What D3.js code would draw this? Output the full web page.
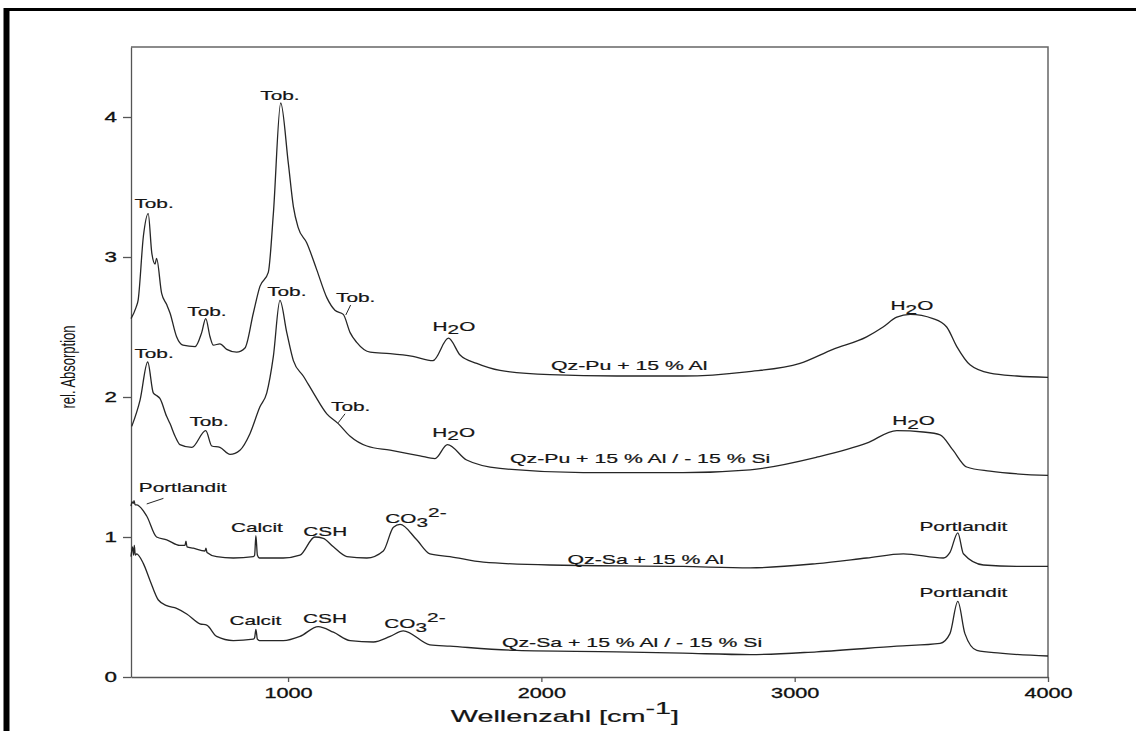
<!DOCTYPE html>
<html>
<head>
<meta charset="utf-8">
<script src="https://cdn.jsdelivr.net/npm/d3@7"></script>
<style>
  body { margin: 0; background: #fff; }
  svg { display: block; font-family: "Liberation Sans", Arial, sans-serif; }
</style>
</head>
<body>
<div id="chart"></div>
<script>
// spectra: [wavenumber, rel. absorption]
const qzPuAl = [[380,2.56],[400,2.64],[408,2.69],[429,3.15],[448,3.31],[462,3.03],[475,2.95],[481,2.99],[501,2.74],[521,2.66],[534,2.60],[560,2.43],[585,2.37],[633,2.36],[659,2.46],[675,2.56],[692,2.43],[705,2.37],[731,2.38],[758,2.34],[797,2.32],[830,2.35],[863,2.60],[889,2.79],[922,2.89],[942,3.31],[971,4.10],[1001,3.67],[1021,3.36],[1040,3.21],[1074,3.10],[1113,2.91],[1153,2.71],[1185,2.62],[1218,2.59],[1245,2.46],[1271,2.39],[1324,2.32],[1403,2.31],[1493,2.29],[1572,2.26],[1633,2.42],[1679,2.30],[1745,2.24],[1837,2.19],[2034,2.16],[2298,2.15],[2559,2.15],[2811,2.18],[3021,2.24],[3151,2.34],[3284,2.43],[3349,2.50],[3403,2.57],[3456,2.59],[3546,2.56],[3600,2.50],[3640,2.36],[3692,2.23],[3771,2.17],[3877,2.15],[4000,2.14]];
const qzPuAlSi = [[383,1.79],[416,1.98],[446,2.25],[468,2.03],[481,2.01],[494,1.99],[521,1.86],[534,1.81],[554,1.72],[573,1.66],[620,1.64],[675,1.76],[699,1.65],[731,1.64],[771,1.59],[810,1.62],[850,1.74],[889,1.93],[916,2.03],[942,2.29],[968,2.69],[995,2.46],[1021,2.26],[1060,2.15],[1100,2.03],[1153,1.88],[1198,1.81],[1245,1.72],[1311,1.65],[1403,1.62],[1521,1.58],[1580,1.56],[1629,1.66],[1705,1.55],[1837,1.49],[2165,1.46],[2559,1.46],[2824,1.48],[3087,1.57],[3284,1.67],[3403,1.76],[3507,1.75],[3574,1.73],[3625,1.62],[3679,1.50],[3771,1.47],[4000,1.44]];
const qzSaAl = [[380,1.22],[384,1.25],[389,1.24],[392,1.26],[396,1.23],[402,1.23],[442,1.15],[481,1.00],[521,0.98],[573,0.94],[593,0.94],[597,0.97],[601,0.93],[626,0.92],[672,0.90],[676,0.92],[680,0.89],[718,0.86],[784,0.85],[863,0.86],[868,0.87],[873,1.01],[879,0.87],[887,0.85],[981,0.85],[1047,0.87],[1106,1.00],[1139,0.99],[1179,0.93],[1232,0.86],[1311,0.85],[1376,0.90],[1416,1.07],[1442,1.09],[1508,0.98],[1560,0.88],[1639,0.86],[1771,0.82],[2034,0.80],[2559,0.79],[2824,0.78],[3087,0.81],[3284,0.85],[3429,0.88],[3587,0.85],[3613,0.89],[3644,1.03],[3666,0.88],[3745,0.80],[3877,0.79],[4000,0.79]];
const qzSaAlSi = [[380,0.86],[386,0.93],[390,0.87],[393,0.94],[397,0.87],[402,0.88],[429,0.81],[455,0.69],[488,0.55],[521,0.51],[560,0.49],[600,0.45],[652,0.38],[679,0.37],[718,0.29],[784,0.26],[863,0.27],[868,0.28],[873,0.34],[879,0.27],[887,0.26],[981,0.26],[1047,0.29],[1119,0.36],[1179,0.32],[1245,0.26],[1337,0.25],[1403,0.29],[1455,0.33],[1560,0.23],[1639,0.22],[1903,0.19],[2298,0.18],[2559,0.17],[2824,0.16],[3087,0.18],[3403,0.22],[3574,0.24],[3613,0.31],[3644,0.54],[3672,0.31],[3719,0.19],[3811,0.17],[4000,0.15]];

const xTicks = [1000, 2000, 3000, 4000];
const yTicks = [0, 1, 2, 3, 4];

// band labels: text, wavenumber, absorption  ({_x} subscript, {^x} superscript)
const bandLabels = [
  ["Tob.", 471, 3.35], ["Tob.", 680, 2.58], ["Tob.", 968, 4.12], ["Tob.", 1267, 2.68],
  ["H{_2}O", 1655, 2.475], ["H{_2}O", 3463, 2.62],
  ["Tob.", 471, 2.28], ["Tob.", 688, 1.79], ["Tob.", 995, 2.72], ["Tob.", 1247, 1.90],
  ["H{_2}O", 1654, 1.716], ["H{_2}O", 3469, 1.80],
  ["Portlandit", 584, 1.32], ["Calcit", 877, 1.034], ["CSH", 1147, 1.01],
  ["CO{_3}{^2-}", 1505, 1.10], ["Portlandit", 3666, 1.045],
  ["Calcit", 871, 0.371], ["CSH", 1146, 0.383], ["CO{_3}{^2-}", 1501, 0.348],
  ["Portlandit", 3666, 0.569]
];
const sampleNames = [
  ["Qz-Pu + 15 % Al", 2347, 2.19],
  ["Qz-Pu + 15 % Al / - 15 % Si", 2390, 1.526],
  ["Qz-Sa + 15 % Al", 2412, 0.81],
  ["Qz-Sa + 15 % Al / - 15 % Si", 2358, 0.216]
];
// short pointer lines: from [wn, abs] to [wn, abs]
const leaders = [
  [1228, 2.586, 1247, 2.657],
  [1198, 1.816, 1225, 1.88],
  [442, 1.236, 508, 1.276]
];

const width = 1136, height = 731;
const ink = "#262626";

var svg = d3.select("#chart")
    .append("svg")
    .attr("width", width)
    .attr("height", height);

// figure border (only top and left show in the crop)
svg.append("line").attr("x1", 4).attr("x2", width).attr("y1", 9.5).attr("y2", 9.5)
    .attr("stroke", "#000").attr("stroke-width", 3);
svg.append("line").attr("x1", 6.5).attr("x2", 6.5).attr("y1", 8).attr("y2", height)
    .attr("stroke", "#000").attr("stroke-width", 6);

var x = d3.scaleLinear().domain([380, 4000]).range([131, 1048]);
var y = d3.scaleLinear().domain([0, 4.5]).range([677, 47]);

// frame top + right
svg.append("path")
    .attr("d", `M${x(380)},${y(4.5)}H${x(4000)}V${y(0)}`)
    .attr("fill", "none").attr("stroke", "#666").attr("stroke-width", 1.5);

// x axis
var xAxis = svg.append("g")
    .attr("transform", "translate(0," + y(0) + ")")
    .call(d3.axisBottom(x).tickValues(xTicks).tickFormat(d3.format("d"))
        .tickSize(5).tickPadding(6).tickSizeOuter(0));
xAxis.selectAll("text")
    .attr("transform", "scale(1.55,1)")
    .style("font-size", "14px");

// y axis
var yAxis = svg.append("g")
    .attr("transform", "translate(" + x(380) + ",0)")
    .call(d3.axisLeft(y).tickValues(yTicks).tickFormat(d3.format("d"))
        .tickSize(8).tickPadding(6).tickSizeOuter(0));
yAxis.selectAll("text")
    .attr("x", 0)
    .attr("transform", "translate(-14,0) scale(1.6,1)")
    .style("font-size", "14px");

svg.selectAll(".tick text")
    .style("font-family", "'Liberation Sans', Arial, sans-serif")
    .attr("fill", "#111")
    .attr("stroke", "#111").attr("stroke-width", 0.3);
svg.selectAll(".domain, .tick line").attr("stroke", "#555").attr("stroke-width", 1.3);

// axis titles
svg.append("text")
    .attr("transform", "translate(75,367) rotate(-90) scale(1,1.6)")
    .attr("text-anchor", "middle")
    .attr("font-size", 13)
    .attr("fill", "#111")
    .text("rel. Absorption");

addLabel("Wellenzahl [cm{^-1}]", x(2093), 722, 16, 1.8, 8);

// spectra
var line = d3.line()
    .x(function (d) { return x(d[0]); })
    .y(function (d) { return y(d[1]); })
    .curve(d3.curveMonotoneX);

[qzPuAl, qzPuAlSi, qzSaAl, qzSaAlSi].forEach(function (s) {
    svg.append("path")
        .datum(s)
        .attr("d", line)
        .attr("fill", "none")
        .attr("stroke", ink)
        .attr("stroke-width", 1.3)
        .attr("stroke-linejoin", "round");
});

leaders.forEach(function (l) {
    svg.append("line")
        .attr("x1", x(l[0])).attr("y1", y(l[1]))
        .attr("x2", x(l[2])).attr("y2", y(l[3]))
        .attr("stroke", ink).attr("stroke-width", 1);
});

bandLabels.forEach(function (d) {
    addLabel(d[0], x(d[1]), y(d[2]), 13, 1.6, 6);
});
sampleNames.forEach(function (d) {
    addLabel(d[0], x(d[1]), y(d[2]), 12.5, 1.7, 6);
});

// text with sub/superscripts, stretched horizontally like the original
function addLabel(txt, px, py, size, k, supShift) {
    var t = svg.append("text")
        .attr("transform", "translate(" + px + "," + py + ") scale(" + k + ",1)")
        .attr("text-anchor", "middle")
        .attr("font-size", size)
        .attr("fill", "#151515")
        .attr("stroke", "#151515")
        .attr("stroke-width", 0.2);
    var shift = 0;
    txt.split(/(\{[_^][^}]*\})/).filter(function (s) { return s; }).forEach(function (p) {
        var target = 0, content = p;
        if (p.startsWith("{_")) { target = size * 0.28; content = p.slice(2, -1); }
        else if (p.startsWith("{^")) { target = -supShift; content = p.slice(2, -1); }
        t.append("tspan").attr("dy", target - shift).text(content);
        shift = target;
    });
}
</script>
</body>
</html>
